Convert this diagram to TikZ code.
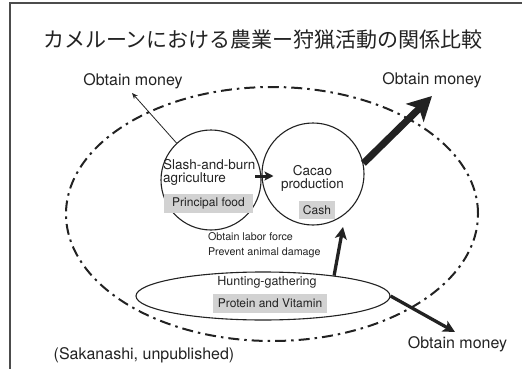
\documentclass[tikz,border=0pt]{standalone}
\usepackage{fontspec}
\setmainfont{TeX Gyre Heros}
\newfontfamily\cjk{Noto Sans CJK JP}
\usetikzlibrary{shapes.geometric,arrows.meta}
\definecolor{ink}{HTML}{222222}
\definecolor{boxgray}{HTML}{D2D2D2}
\begin{document}
\begin{tikzpicture}[x=1pt,y=-1pt,
  txt/.style={text=ink, inner sep=0pt, outer sep=0pt},
  lbl/.style={txt, font=\fontsize{16}{19}\selectfont},
  intext/.style={txt, font=\fontsize{13.5}{13}\selectfont},
  graybox/.style={fill=boxgray, txt, font=\fontsize{12}{14}\selectfont},
  ring/.style={circle, draw=ink, line width=1.1pt, minimum size=100pt, inner sep=0pt},
  dashdot/.style={draw=ink, line width=2pt, dash pattern=on 11pt off 5pt on 2.5pt off 5pt},
  thinarr/.style={draw=ink, line width=0.8pt, -{Stealth[length=6pt,width=5pt]}},
  bigarr/.style={draw=ink, line width=7pt, -{Stealth[length=24pt,width=25pt,inset=6pt]}},
  midarr/.style={draw=ink, line width=3.3pt, -{Stealth[length=12pt,width=12pt,inset=3pt]}},
  smallarr/.style={draw=ink, line width=3pt, -{Stealth[length=9pt,width=9pt,inset=2pt]}}
]
\useasboundingbox (0,0) rectangle (522,369);
\draw[line width=1.2pt, black!70] (10,369) -- (10,3) -- (522,3);

\node[txt, font=\cjk\fontsize{21}{24}\selectfont] (title) at (263,40) {カメルーンにおける農業ー狩猟活動の関係比較};

% outer dash-dot ellipse
\draw[dashdot] (272,214) ellipse [x radius=206pt, y radius=127pt];

% circles
\node[ring] (slash) at (211,180) {};
\node[ring, minimum size=102pt] (cacao) at (313,174) {};
\node[ellipse, draw=ink, line width=1.1pt, minimum width=254pt, minimum height=48pt, inner sep=0pt] (hunt) at (263,296) {};

% texts
\node[intext, align=left, anchor=west] (slashtxt) at (163,172.5) {Slash-and-burn\\agriculture};
\node[intext, align=center] (cacaotxt) at (312.5,178.5) {Cacao\\production};
\node[graybox, minimum width=89pt, minimum height=19pt] (food) at (208.5,203.5) {Principal food};
\node[graybox, minimum width=36pt, minimum height=18pt] (cash) at (317,210) {Cash};
\node[txt, font=\fontsize{12.5}{14}\selectfont] (hunttxt) at (267,282) {Hunting-gathering};
\node[graybox, minimum width=114pt, minimum height=19pt] (prot) at (270,303.5) {Protein and Vitamin};
\node[txt, font=\fontsize{10.7}{15}\selectfont, align=left, anchor=west] (labor) at (208,245) {Obtain labor force\\Prevent animal damage};

\node[lbl] (money1) at (133,81) {Obtain money};
\node[lbl] (money2) at (432,80) {Obtain money};
\node[lbl] (money3) at (457.5,344) {Obtain money};
\node[lbl] (src) at (144,355) {(Sakanashi, unpublished)};

% connector ends
\coordinate (tip1) at (132,93);
\coordinate (tip2) at (432,96);
\coordinate (tip3) at (343,227);
\coordinate (tip4) at (455,332);
\coordinate (mida) at (255,176);
\coordinate (midb) at (273.5,176);

% arrows
\draw[thinarr] (slash.133) -- (tip1);
\draw[bigarr] (cacao.12) -- (tip2);
\draw[midarr] (hunt.16) -- (tip3);
\draw[midarr] (hunt.east) -- (tip4);
\draw[smallarr] (mida) -- (midb);
\end{tikzpicture}
\end{document}
